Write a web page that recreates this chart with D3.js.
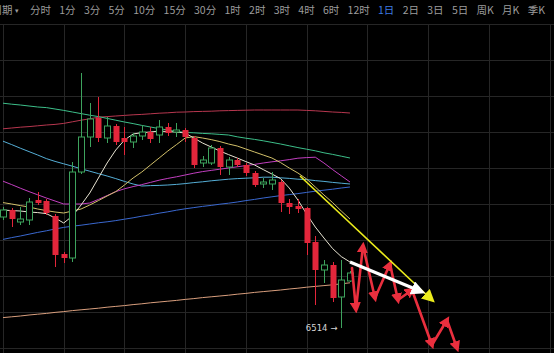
<!DOCTYPE html>
<html>
<head>
<meta charset="utf-8">
<script src="https://cdn.jsdelivr.net/npm/d3@7"></script>
<style>
  body { margin: 0; background: #000; }
  svg { display: block; background: #000; }
  .grid line { stroke: #262626; stroke-width: 1; shape-rendering: crispEdges; }
  .toolbar text { font-family: "Noto Sans CJK SC", "Noto Sans", sans-serif; font-size: 10.5px; fill: #9c9c9c; }
  .ma { fill: none; stroke-width: 1; }
</style>
</head>
<body>
<svg id="chart" width="554" height="353"></svg>
<script>
// toolbar periods
const periodLabels = ["分时", "1分", "3分", "5分", "10分", "15分", "30分", "1时", "2时", "3时", "4时",
  "6时", "12时", "1日", "2日", "3日", "5日", "周K", "月K", "季K"];
const activePeriod = "1日";

// daily candles (index 0..40)
const opens  = [7069, 7104, 7044, 7054, 7154, 7149, 7074, 6884, 6864, 7294, 7469, 7564, 7464, 7524, 7464, 7444,
  7474, 7494, 7479, 7519, 7494, 7504, 7464, 7339, 7339, 7414, 7319, 7354, 7329, 7289, 7234, 7234, 7244, 7139,
  7124, 7114, 6944, 6804, 6829, 6669, 6749];
const highs  = [7119, 7114, 7119, 7164, 7194, 7159, 7084, 6894, 7344, 7789, 7639, 7669, 7569, 7534, 7519, 7489,
  7529, 7519, 7554, 7539, 7539, 7514, 7474, 7374, 7429, 7424, 7369, 7364, 7339, 7299, 7264, 7294, 7254, 7159,
  7159, 7119, 6974, 6854, 6844, 6854, 6799];
const lows   = [7054, 7019, 7029, 7029, 7129, 7079, 6819, 6839, 6844, 7284, 7419, 7444, 7439, 7429, 7379, 7414,
  7454, 7439, 7439, 7474, 7469, 7444, 7314, 7319, 7329, 7279, 7279, 7319, 7274, 7219, 7214, 7204, 7094, 7084,
  7089, 6879, 6629, 6739, 6644, 6514, 6744];
const closes = [7104, 7059, 7059, 7144, 7139, 7089, 6879, 6864, 7294, 7469, 7559, 7464, 7524, 7444, 7444, 7474,
  7494, 7459, 7519, 7489, 7504, 7469, 7329, 7354, 7414, 7319, 7354, 7329, 7289, 7229, 7244, 7254, 7139, 7119,
  7109, 6939, 6804, 6829, 6664, 6754, 6789];

// moving averages
const maWhite = [7104, 7101, 7099, 7094, 7091, 7086, 7064, 7039, 7074, 7129, 7189, 7264, 7339, 7404, 7454, 7484,
  7491, 7494, 7499, 7496, 7494, 7489, 7464, 7439, 7419, 7399, 7381, 7364, 7346, 7329, 7306, 7284, 7261, 7214,
  7154, 7084, 7019, 6964, 6911, 6871, 6844];
const maKhaki = [7141, 7134, 7126, 7119, 7109, 7101, 7094, 7089, 7099, 7109, 7129, 7151, 7174, 7196, 7229, 7264,
  7294, 7329, 7364, 7399, 7431, 7464, 7471, 7464, 7456, 7446, 7434, 7424, 7409, 7394, 7379, 7364, 7341, 7314,
  7289, 7259, 7219, 7179, 7141, 7099, 7059];
const maGreen = [7638, 7633, 7629, 7624, 7619, 7616, 7609, 7602, 7594, 7586, 7578, 7571, 7562, 7553, 7544, 7536,
  7527, 7519, 7511, 7504, 7497, 7492, 7490, 7487, 7485, 7482, 7479, 7470, 7463, 7457, 7450, 7442, 7434, 7425,
  7416, 7408, 7400, 7390, 7382, 7373, 7364];
const maRed = [7510, 7514, 7518, 7521, 7525, 7529, 7532, 7537, 7545, 7553, 7560, 7568, 7571, 7574, 7577, 7580,
  7582, 7585, 7588, 7590, 7593, 7594, 7596, 7597, 7598, 7600, 7601, 7602, 7603, 7604, 7604, 7604, 7604, 7604,
  7604, 7602, 7600, 7597, 7594, 7592, 7589];
const maMagenta = [7248, 7231, 7213, 7196, 7180, 7164, 7149, 7134, 7134, 7134, 7139, 7157, 7176, 7196, 7210, 7221,
  7231, 7242, 7253, 7262, 7270, 7279, 7288, 7296, 7302, 7308, 7314, 7320, 7326, 7332, 7339, 7345, 7350, 7356,
  7363, 7366, 7368, 7339, 7306, 7275, 7244];
const maCyan = [7448, 7431, 7413, 7396, 7379, 7361, 7347, 7335, 7323, 7310, 7298, 7286, 7274, 7261, 7247, 7234,
  7224, 7226, 7227, 7229, 7232, 7236, 7241, 7245, 7250, 7254, 7258, 7261, 7263, 7265, 7268, 7268, 7265, 7262,
  7258, 7256, 7251, 7247, 7242, 7238, 7234];
const maBlue = [6957, 6966, 6974, 6983, 6992, 7000, 7009, 7017, 7023, 7028, 7034, 7040, 7045, 7051, 7058, 7065,
  7073, 7080, 7088, 7095, 7103, 7110, 7116, 7122, 7127, 7133, 7138, 7144, 7151, 7157, 7164, 7170, 7176, 7181,
  7186, 7192, 7198, 7203, 7208, 7214, 7219];
const maTan = [6566, 6570, 6574, 6579, 6583, 6587, 6592, 6596, 6601, 6605, 6609, 6613, 6618, 6622, 6626, 6631,
  6635, 6640, 6644, 6648, 6652, 6657, 6661, 6666, 6670, 6674, 6678, 6683, 6687, 6692, 6696, 6700, 6704, 6709,
  6713, 6718, 6722, 6726, 6730, 6735, 6740];

// hand drawn forecast arrows, [candle index, price]
const redZigzag = [[40.23, 6814], [40.69, 6609], [41.5, 6924], [42.88, 6664], [44.61, 6834], [45.53, 6654],
  [47.15, 6704], [49.45, 6429], [51.18, 6554], [52.33, 6414]];
const whiteArrow = [[40.0, 6844], [48.07, 6699]];
const yellowArrow = [[34.24, 7274], [49.34, 6659]];

const lowLabel = "6514";
const lowIndex = 39;

const W = 554, H = 353;
const svg = d3.select("#chart");

const x = d3.scaleLinear().domain([0, 63]).range([3, 549.5]);
const y = d3.scaleLinear().domain([6414, 7854]).range([348, 60]);

// gridlines
const grid = svg.append("g").attr("class", "grid");
grid.selectAll("line.h")
  .data(d3.range(6414, 8100, 180))
  .enter().append("line")
  .attr("x1", 0).attr("x2", W)
  .attr("y1", d => Math.round(y(d)) + 0.5)
  .attr("y2", d => Math.round(y(d)) + 0.5);
grid.selectAll("line.v")
  .data(d3.range(0, 64, 7))
  .enter().append("line")
  .attr("y1", y(8034)).attr("y2", H)
  .attr("x1", d => Math.round(x(d)) + 0.5)
  .attr("x2", d => Math.round(x(d)) + 0.5);

// toolbar: the period row runs from x=30 to x=545
const bar = svg.append("g").attr("class", "toolbar");
bar.append("text").attr("x", 12.5).attr("y", 14).attr("text-anchor", "end").text("周期");
bar.append("text").attr("x", 15).attr("y", 13).style("font-size", "7px").text("▾");
const labels = periodLabels.map(p => bar.append("text")
  .attr("y", 14)
  .style("fill", p === activePeriod ? "#3d7be0" : null)
  .text(p));
const widths = labels.map(t => t.node().getComputedTextLength());
const gap = (545 - 30 - d3.sum(widths)) / (labels.length - 1);
let tx = 30;
labels.forEach((t, i) => {
  t.attr("x", tx);
  tx += widths[i] + gap;
});

// moving averages
const line = d3.line().x((d, i) => x(i)).y(d => y(d));
const maSeries = [
  [maTan, "#d99f7e"],
  [maRed, "#b7374f"],
  [maGreen, "#3dbf8a"],
  [maBlue, "#3a68cf"],
  [maCyan, "#55aed6"],
  [maMagenta, "#c23fc0"],
  [maKhaki, "#d2c06a"],
  [maWhite, "#e8e4d2"]
];
svg.append("g").selectAll("path")
  .data(maSeries)
  .enter().append("path")
  .attr("class", "ma")
  .attr("d", d => line(d[0]))
  .attr("stroke", d => d[1]);

// candles
const candles = opens.map((o, i) => ({ i, o, h: highs[i], l: lows[i], c: closes[i] }));
const up = "#3da35d", down = "#e3263b";
const cg = svg.append("g").selectAll("g")
  .data(candles)
  .enter().append("g");
cg.append("line")
  .attr("x1", d => Math.round(x(d.i)) + 0.5)
  .attr("x2", d => Math.round(x(d.i)) + 0.5)
  .attr("y1", d => y(d.h))
  .attr("y2", d => y(d.l))
  .attr("stroke", d => d.c >= d.o ? up : down);
cg.append("rect")
  .attr("x", d => Math.round(x(d.i)) - 2.5)
  .attr("width", 6)
  .attr("y", d => y(Math.max(d.o, d.c)))
  .attr("height", d => Math.max(1, Math.abs(y(d.o) - y(d.c))))
  .attr("fill", d => d.c >= d.o ? "#000" : down)
  .attr("stroke", d => d.c >= d.o ? up : "none");

// low label
svg.append("text")
  .attr("x", x(lowIndex) - 4)
  .attr("y", y(lows[lowIndex]) + 3)
  .attr("text-anchor", "end")
  .style("font-family", "'DejaVu Sans', sans-serif")
  .style("font-size", "8.5px")
  .style("fill", "#d6d6d6")
  .text(lowLabel + " →");

// arrow markers
const defs = svg.append("defs");
function marker(id, color, size) {
  defs.append("marker")
    .attr("id", id)
    .attr("viewBox", "0 -5 10 10")
    .attr("refX", 6).attr("refY", 0)
    .attr("markerUnits", "userSpaceOnUse")
    .attr("markerWidth", size).attr("markerHeight", size)
    .attr("orient", "auto")
    .append("path")
    .attr("d", "M0,-5L10,0L0,5Z")
    .attr("fill", color);
}
marker("ar-red", "#ea2f3e", 11);
marker("ar-white", "#ffffff", 14);
marker("ar-yellow", "#ecec1c", 13);

const segs = d3.pairs(redZigzag);
svg.append("g").selectAll("line")
  .data(segs)
  .enter().append("line")
  .attr("x1", d => x(d[0][0])).attr("y1", d => y(d[0][1]))
  .attr("x2", d => x(d[1][0])).attr("y2", d => y(d[1][1]))
  .attr("stroke", "#ea2f3e")
  .attr("stroke-width", 2.6)
  .attr("stroke-linecap", "round")
  .attr("marker-end", "url(#ar-red)");

svg.append("line")
  .attr("x1", x(yellowArrow[0][0])).attr("y1", y(yellowArrow[0][1]))
  .attr("x2", x(yellowArrow[1][0])).attr("y2", y(yellowArrow[1][1]))
  .attr("stroke", "#ecec1c")
  .attr("stroke-width", 1.6)
  .attr("marker-end", "url(#ar-yellow)");

svg.append("line")
  .attr("x1", x(whiteArrow[0][0])).attr("y1", y(whiteArrow[0][1]))
  .attr("x2", x(whiteArrow[1][0])).attr("y2", y(whiteArrow[1][1]))
  .attr("stroke", "#ffffff")
  .attr("stroke-width", 3)
  .attr("marker-end", "url(#ar-white)");
</script>
</body>
</html>
